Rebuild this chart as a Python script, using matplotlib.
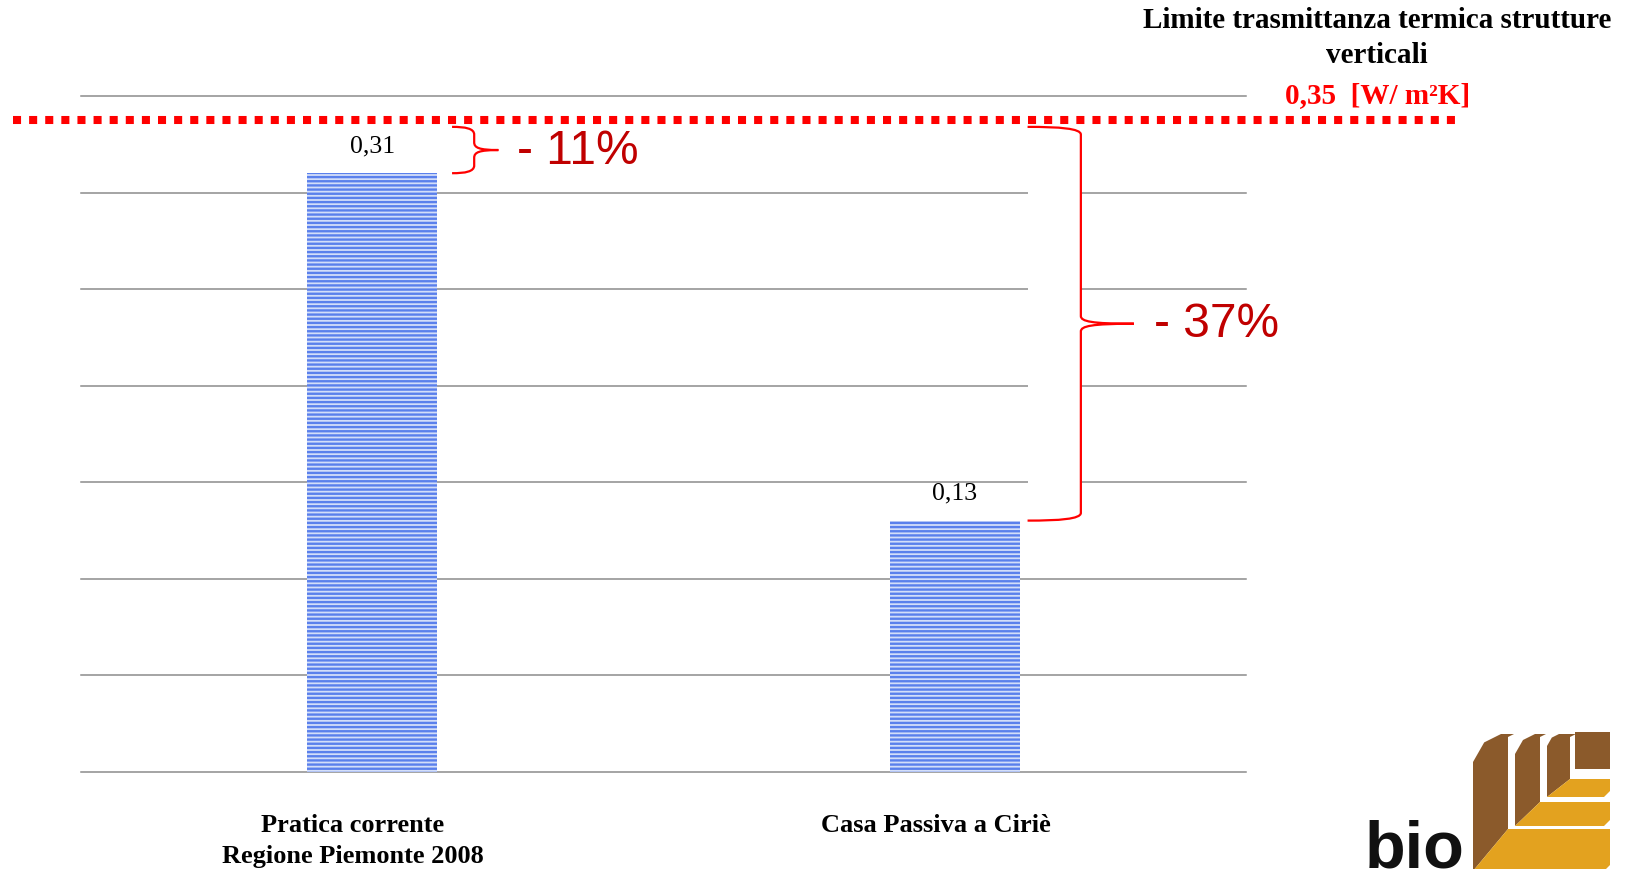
import numpy as np
import matplotlib
matplotlib.use('Agg')
import matplotlib.pyplot as plt
from matplotlib import transforms
from matplotlib.path import Path
from matplotlib.patches import PathPatch, Rectangle, Polygon

#%% data
categories = ['Pratica corrente\nRegione Piemonte 2008', 'Casa Passiva a Ciriè']
values = [0.31, 0.13]
limit = 0.35
pct_labels = ['- 11%', '- 37%']
title = 'Limite trasmittanza termica strutture\nverticali'
limit_label = '0,35  [W/ m²K]'

W, H = 1636, 870
SERIF = 'Liberation Serif'
SANS = 'Liberation Sans'


def px(x, y):
    # pixel position (top-left origin) -> figure fraction
    return x / W, 1 - y / H


#%% figure
plt.rcParams['hatch.linewidth'] = 1.7
fig = plt.figure(figsize=(W / 100, H / 100), dpi=100)
ax = fig.add_axes([81 / W, (H - 772.5) / H, (1246 - 81) / W, (772.5 - 97) / H])

x = np.arange(len(values))
ax.bar(x, values, width=0.223, color='#d3def9', edgecolor='#5a80ec',
       linewidth=0, hatch='----', zorder=1)

ax.set_xlim(-0.5, 1.5)
ax.set_ylim(0, limit)
ax.set_yticks(np.arange(0, limit + 0.01, 0.05))
ax.set_axisbelow(True)
ax.grid(True, axis='y', color='#8c8c8c', lw=1.1)
for gl in ax.get_ygridlines():
    gl.set_clip_on(False)
for s in ax.spines.values():
    s.set_visible(False)
ax.set_xticks([])
ax.tick_params(left=False, labelleft=False)

# value labels
for xi, v in zip(x, values):
    ax.annotate(f'{v:.2f}'.replace('.', ','), xy=(xi, v), xytext=(0, 20),
                textcoords='offset points', ha='center', va='center',
                fontsize=18.5, family=SERIF)

# category labels under the bars
lab_tr = transforms.blended_transform_factory(ax.transData, fig.transFigure)
for xi, c in zip(x, categories):
    ax.text(xi - 0.033, px(0, 814)[1], c, transform=lab_tr, ha='center',
            va='top', fontsize=19, fontweight='bold', family=SERIF,
            linespacing=1.45)

#%% limit line (shifted a bit below the top gridline)
line_y = limit - 0.0125
lim_tr = transforms.blended_transform_factory(fig.transFigure, ax.transData)
ax.plot([13 / W, 1462 / W], [line_y, line_y], transform=lim_tr, color='#ff0000',
        lw=5.8, dashes=(1, 1), solid_capstyle='butt', dash_capstyle='butt',
        clip_on=False, zorder=5)

fig.text(*px(1377, 38), title, ha='center', va='center', fontsize=21,
         fontweight='bold', family=SERIF, linespacing=1.4)
fig.text(*px(1378, 96), limit_label, ha='center', va='center', fontsize=21,
         fontweight='bold', family=SERIF, color='#ff0000')


#%% braces
def brace(ax, x0, xs, xt, yb, yt, r, rc):
    ym = (yb + yt) / 2
    verts = [(x0, yt),
             (x0 + 0.6 * (xs - x0), yt), (xs, yt - 0.2 * rc), (xs, yt - rc),
             (xs, ym + r),
             (xs, ym + 0.3 * r), (xs + 0.2 * (xt - xs), ym), (xt, ym),
             (xs + 0.2 * (xt - xs), ym), (xs, ym - 0.3 * r), (xs, ym - r),
             (xs, yb + rc),
             (xs, yb + 0.2 * rc), (x0 + 0.6 * (xs - x0), yb), (x0, yb)]
    codes = [Path.MOVETO] + [Path.CURVE4] * 3 + [Path.LINETO] + \
        [Path.CURVE4] * 6 + [Path.LINETO] + [Path.CURVE4] * 3
    ax.add_patch(Rectangle((x0, yb), xs - x0, yt - yb, facecolor='white',
                           edgecolor='none', zorder=1.5))
    ax.add_patch(PathPatch(Path(verts, codes), fill=False, edgecolor='#ff0000',
                           lw=1.6, zorder=3, clip_on=False))
    return ym


brace_top = line_y - 0.0035
# (start, spine, tip, text) offsets from each bar centre
brace_geom = [(0.137, 0.175, 0.2165, 0.249), (0.125, 0.2165, 0.3076, 0.342)]
for xi, v, lab, (b0, bs, bt, tx) in zip(x, values, pct_labels, brace_geom):
    ym = brace(ax, xi + b0, xi + bs, xi + bt, v, brace_top, 0.004, 0.004)
    ax.text(xi + tx, ym, lab, ha='left', va='center', fontsize=34.5,
            family=SANS, color='#c00000', clip_on=False)

#%% logo
lg = fig.add_axes([1340 / W, 0, (W - 1340) / W, 150 / H])
lg.set_xlim(1340, W)
lg.set_ylim(870, 720)
lg.axis('off')
brown, orange = '#8b5a2b', '#e3a21f'
R = 1610
# nested L shapes: vertical left edge a, right edge b, band top c, band bottom d
Ls = [(1473, 1508, 830, 872), (1515, 1540, 803, 827), (1547, 1570, 780, 798)]
top = 735
for i, (a, b, c, d) in enumerate(Ls):
    cut = 28 - 8 * i
    lg.add_patch(Polygon([(a, top + cut), (a + cut * 0.4, top + cut * 0.3),
                          (a + cut, top), (b + 6, top), (b, top + 3), (b, c), (a, d)],
                         closed=True, facecolor=brown, edgecolor='none'))
    lg.add_patch(Polygon([(a, d), (b, c), (R, c), (R, d - 6), (R - 6, d)],
                         closed=True, facecolor=orange, edgecolor='none'))
lg.add_patch(Polygon([(1575, 733), (R, 733), (R, 770), (1575, 770)],
                     closed=True, facecolor=brown, edgecolor='none'))
lg.text(1365, 868, 'bio', ha='left', va='baseline', fontsize=48,
        fontweight='bold', family=SANS, color='#111111')

fig.savefig('out.png', dpi=100)
